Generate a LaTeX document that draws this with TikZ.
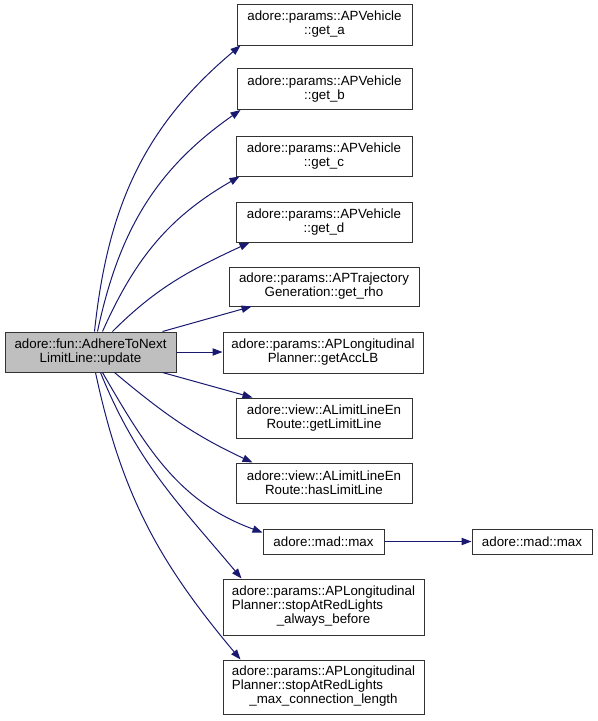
\documentclass[tikz,border=0pt]{standalone}
\usepackage{fontspec}
\setmainfont{Liberation Sans}
\usetikzlibrary{calc,arrows.meta}
\definecolor{edgeblue}{HTML}{191970}
\definecolor{boxborder}{HTML}{333333}
\tikzset{
  fn/.style={draw=boxborder, line width=0.75pt, fill=white, inner sep=0pt, align=center,
    font=\fontsize{10pt}{10.5pt}\selectfont},
  mainfn/.style={fn, fill=black!25},
  call/.style={draw=edgeblue, line width=0.75pt, -{Triangle[length=7.5pt,width=5.5pt]}}
}
\begin{document}
\begin{tikzpicture}[x=0.75pt,y=0.75pt]
\useasboundingbox (0,0) rectangle (597,-721);
\node[mainfn, minimum width=128.25pt, minimum height=30pt] (main) at (90.5,-352) {adore::fun::AdhereToNext\\LimitLine::update};
\node[fn, minimum width=131.25pt, minimum height=30.75pt] (ga) at (324.5,-24.5) {adore::params::APVehicle\\::get\_a};
\node[fn, minimum width=131.25pt, minimum height=30.75pt] (gb) at (324.5,-89) {adore::params::APVehicle\\::get\_b};
\node[fn, minimum width=132pt, minimum height=30pt] (gc) at (324,-156) {adore::params::APVehicle\\::get\_c};
\node[fn, minimum width=132pt, minimum height=30pt] (gd) at (324,-222) {adore::params::APVehicle\\::get\_d};
\node[fn, minimum width=142.5pt, minimum height=29.25pt] (grho) at (324,-286.5) {adore::params::APTrajectory\\Generation::get\_rho};
\node[fn, minimum width=150pt, minimum height=30.75pt] (gacc) at (323,-352.5) {adore::params::APLongitudinal\\Planner::getAccLB};
\node[fn, minimum width=132pt, minimum height=30pt] (glim) at (324,-418) {adore::view::ALimitLineEn\\Route::getLimitLine};
\node[fn, minimum width=132pt, minimum height=30pt] (ghas) at (324,-483) {adore::view::ALimitLineEn\\Route::hasLimitLine};
\node[fn, minimum width=90.75pt, minimum height=18.75pt] (maxa) at (323.5,-541.5) {adore::mad::max};
\node[fn, minimum width=90pt, minimum height=18.75pt] (maxb) at (532,-541.5) {adore::mad::max};
\node[fn, minimum width=150.75pt, minimum height=42pt] (stopa) at (323.5,-607) {\begin{tabular}{@{}l@{}}adore::params::APLongitudinal\\Planner::stopAtRedLights\\\multicolumn{1}{@{}c@{}}{\_always\_before}\end{tabular}};
\node[fn, minimum width=150.75pt, minimum height=40.5pt] (stopb) at (323.5,-687) {\begin{tabular}{@{}l@{}}adore::params::APLongitudinal\\Planner::stopAtRedLights\\\multicolumn{1}{@{}c@{}}{\_max\_connection\_length}\end{tabular}};
\begin{scope}[every node/.style={}]
\draw[call] ($(main.north west)+(90,0)$) to[out=84,in=-140] ($(ga.south west)+(4,0)$);
\draw[call] ($(main.north west)+(93,0)$) to[out=78,in=-145] ($(gb.south west)+(4,0)$);
\draw[call] ($(main.north west)+(98,0)$) to[out=66,in=-150] ($(gc.south west)+(4,0)$);
\draw[call] ($(main.north west)+(108,0)$) to[out=45,in=-155] ($(gd.south west)+(14,0)$);
\draw[call] ($(main.north west)+(158,0)$) -- ($(grho.south west)+(23,0)$);
\draw[call] (main.east) -- (main.east -| gacc.west);
\draw[call] ($(main.south west)+(158,0)$) -- ($(glim.north west)+(17,0)$);
\draw[call] ($(main.south west)+(110,0)$) to[out=-40,in=155] ($(ghas.north west)+(17,0)$);
\draw[call] ($(main.south west)+(98,0)$) to[out=-60,in=160] ($(maxa.north west)+(0,-4)$);
\draw[call] ($(main.south west)+(96,0)$) to[out=-68,in=130] ($(stopa.north west)+(19,0)$);
\draw[call] ($(main.south west)+(91,0)$) to[out=-78,in=130] ($(stopb.north west)+(18,0)$);
\draw[call] (maxa.east) -- (maxb.west);
\end{scope}
\end{tikzpicture}
\end{document}
